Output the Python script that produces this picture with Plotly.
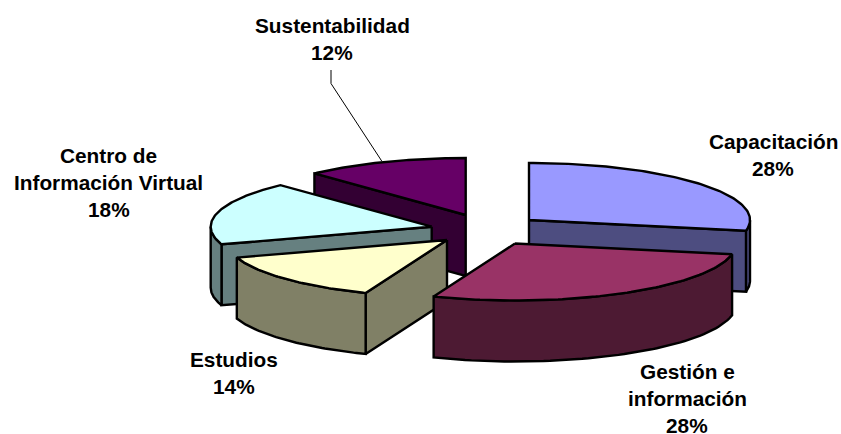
import numpy as np
import plotly.graph_objects as go

categories = ["Capacitación", "Gestión e información", "Estudios", "Centro de Información Virtual", "Sustentabilidad"]
values = [28, 28, 14, 18, 12]
top_colors = ["#9999FF", "#993366", "#FFFFCC", "#CCFFFF", "#660066"]
side_colors = ["#4D4D80", "#4D1A33", "#808066", "#668080", "#330033"]

# layout of the exploded pie, in page pixels
apex_x = [529, 515, 447, 431.7, 465.7]
apex_y = [220, 243.5, 240, 226.7, 215]
draw_order = [4, 3, 0, 2, 1]
RX, RY, DEPTH = 221, 57, 61

label_lines = [["Capacitación"], ["Gestión e", "información"], ["Estudios"], ["Centro de", "Información Virtual"], ["Sustentabilidad"]]
label_x = [773, 687, 234, 108.5, 332]
label_y = [141, 371, 359, 155, 25]
LINE_STEP = 27.2

fig = go.Figure()


def poly(xs, ys, fill):
    xs = list(xs) + [xs[0]]
    ys = list(ys) + [ys[0]]
    fig.add_trace(go.Scatter(x=xs, y=ys, mode="lines", fill="toself", fillcolor=fill,
                             line=dict(color="#000000", width=2.4), hoverinfo="skip", showlegend=False))


total = sum(values)
edges = np.concatenate([[0], np.cumsum(values)]) / total * 360.0


def rim(ax, ay, t):
    r = np.radians(t)
    return ax + RX * np.sin(r), ay - RY * np.cos(r)


for i in draw_order:
    a, b = edges[i], edges[i + 1]
    ax, ay = apex_x[i], apex_y[i]
    # cut faces that turn towards the viewer
    for t, visible in ((a, 180 < a < 360), (b, 0 < b < 180)):
        if visible:
            px, py = rim(ax, ay, t)
            poly([ax, px, px, ax], [ay, py, py + DEPTH, ay + DEPTH], side_colors[i])
    # outer wall, front half only
    lo, hi = max(a, 90), min(b, 270)
    if lo < hi:
        ts = np.linspace(lo, hi, 60)
        px, py = rim(ax, ay, ts)
        poly(list(px) + list(px[::-1]), list(py) + list((py + DEPTH)[::-1]), side_colors[i])
    # top face
    ts = np.linspace(a, b, 90)
    px, py = rim(ax, ay, ts)
    poly([ax] + list(px), [ay] + list(py), top_colors[i])

# leader line of the last label
fig.add_trace(go.Scatter(x=[331, 331, 381.7], y=[70, 83.5, 161], mode="lines",
                         line=dict(color="#000000", width=1), hoverinfo="skip", showlegend=False))

for i, lines in enumerate(label_lines):
    rows = lines + [f"{round(values[i] / total * 100)}%"]
    for k, row in enumerate(rows):
        fig.add_annotation(x=label_x[i], y=label_y[i] + k * LINE_STEP, text=f"<b>{row}</b>", showarrow=False,
                           xanchor="center", yanchor="middle",
                           font=dict(family="Liberation Sans, Arial, sans-serif", size=20.8, color="#000000"))

fig.update_layout(width=841, height=434, margin=dict(l=0, r=0, t=0, b=0), autosize=False,
                  paper_bgcolor="#FFFFFF", plot_bgcolor="#FFFFFF", showlegend=False,
                  xaxis=dict(range=[0, 841], visible=False, fixedrange=True),
                  yaxis=dict(range=[434, 0], visible=False, fixedrange=True))
fig.write_html("out.html", config={"displayModeBar": False},
               post_script="document.documentElement.style.overflow='hidden';document.body.style.margin='0';")
